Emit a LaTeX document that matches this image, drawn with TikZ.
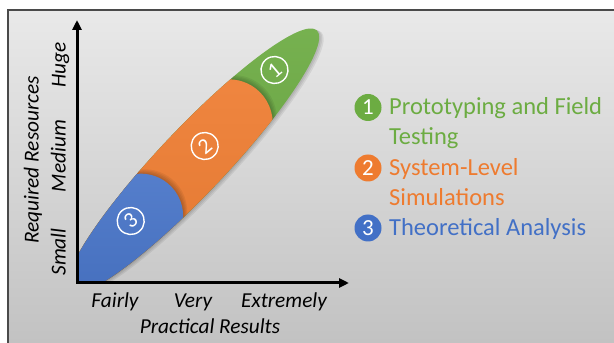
\documentclass[tikz,border=0pt]{standalone}
\usepackage{fontspec}
\setmainfont{Carlito}
\usetikzlibrary{arrows.meta}
\definecolor{cgreen}{HTML}{6CAC42}
\definecolor{corange}{HTML}{EE7B2F}
\definecolor{cblue}{HTML}{4270C6}
\definecolor{frameline}{HTML}{4A4A4A}
\definecolor{bgtop}{HTML}{E9E9E9}
\definecolor{bgbot}{HTML}{C2C2C2}
\tikzset{
  axislabel/.style={font=\fontsize{21.3}{24}\selectfont\itshape, text=black, inner sep=0pt},
  legendtext/.style={font=\fontsize{24.5}{28}\selectfont, inner sep=0pt, anchor=base west},
  legendnum/.style={circle, fill=#1, minimum size=27pt, inner sep=0pt, text=white, font=\fontsize{23}{25}\selectfont},
  slicenum/.style={circle, draw=white, line width=1.4pt, minimum size=27pt, inner sep=0pt, text=white, rotate=40, font=\fontsize{22}{24}\selectfont},
}
\def\orangeregion{(-250,-35) -- ([shift={(52.3,0)}]-53.2:43.7) arc[start angle=-53.2, end angle=53.2, radius=43.7] -- (-250,35) -- cycle}
\def\blueregion{(-250,-35) -- ([shift={(-75.9,0)}]-55.6:42.4) arc[start angle=-55.6, end angle=55.6, radius=42.4] -- (-250,35) -- cycle}
\begin{document}
\begin{tikzpicture}[x=1pt, y=1pt]
\useasboundingbox (0,0) rectangle (614,343);
% background panel
\shade[top color=bgtop, bottom color=bgbot] (8,0) rectangle (614,333);
\draw[frameline, line width=1.5pt] (8,0) -- (8,333) -- (614,333);
% coordinates
\coordinate (O) at (77,60);
\coordinate (ytip) at (77,323);
\coordinate (xtip) at (349,60);
% ellipse
\begin{scope}
  \clip (77,60) rectangle (430,343);
  \begin{scope}[shift={(193,182)}, rotate=46.5]
    \foreach \k in {1.5,3,4.5}
      \fill[black, opacity=0.07] (0.4*\k,-\k) ellipse[x radius=180, y radius=33];
    \clip (0,0) ellipse[x radius=180, y radius=33];
    \shade[top color=cgreen!92!white, bottom color=cgreen!90!black] (-181,-34) rectangle (181,34);
    \foreach \k in {1.5,3,4.5,6}
      \fill[black, opacity=0.06, xshift=\k] \orangeregion;
    \shade[top color=corange!92!white, bottom color=corange!93!black] \orangeregion;
    \foreach \k in {1.5,3,4.5,6}
      \fill[black, opacity=0.06, xshift=\k] \blueregion;
    \shade[top color=cblue!90!white, bottom color=cblue!92!black] \blueregion;
  \end{scope}
\end{scope}
% slice numbers
\node[slicenum] (s1) at (274.5,273) {1};
\node[slicenum] (s2) at (204.7,197) {2};
\node[slicenum] (s3) at (130.7,122) {3};
% axes
\draw[line width=3pt, miter limit=10, {Triangle[length=10pt,width=9pt]}-{Triangle[length=10pt,width=9pt]}] (ytip) -- (O) -- (xtip);
% axis labels
\node[axislabel, anchor=base] (fairly) at (115,35) {Fairly};
\node[axislabel, anchor=base] (very) at (193,35) {Very};
\node[axislabel, anchor=base] (extremely) at (284,35) {Extremely};
\node[axislabel, anchor=base] (xlab) at (210,9) {Practical Results};
\node[axislabel, anchor=base, rotate=90] (ylab) at (38.5,183) {Required Resources};
\node[axislabel, anchor=base, rotate=90] (small) at (65.5,91) {Small};
\node[axislabel, anchor=base, rotate=90] (medium) at (65.5,187) {Medium};
\node[axislabel, anchor=base, rotate=90] (huge) at (65.5,278) {Huge};
% legend
\node[legendnum=cgreen] (l1) at (368,235.5) {1};
\node[legendnum=corange] (l2) at (368,175) {2};
\node[legendnum=cblue] (l3) at (368,115) {3};
\node[legendtext, text=cgreen] (t1a) at (389,228) {Prototyping and Field};
\node[legendtext, text=cgreen] (t1b) at (389,198) {Testing};
\node[legendtext, text=corange] (t2a) at (389,167) {System-Level};
\node[legendtext, text=corange] (t2b) at (389,137) {Simulations};
\node[legendtext, text=cblue] (t3) at (389,107) {Theoretical Analysis};
\end{tikzpicture}
\end{document}
